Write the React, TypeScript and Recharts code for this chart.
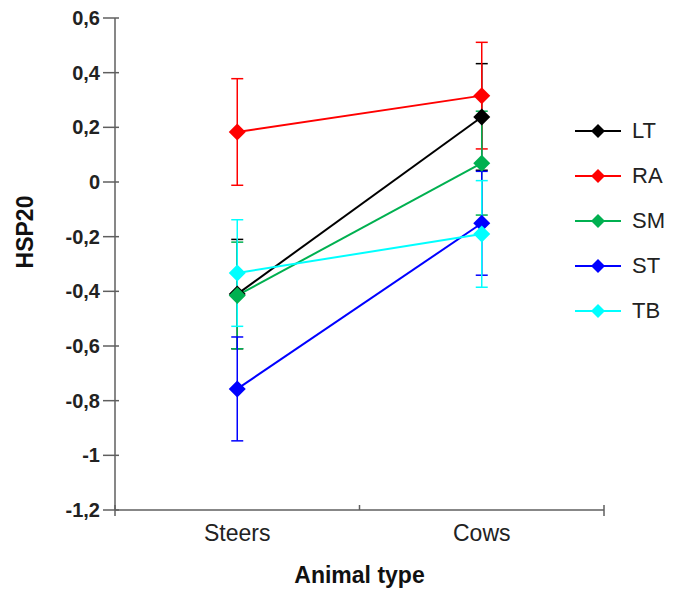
import React from 'react';
import { LineChart, Line, XAxis, YAxis, ErrorBar, Legend } from 'recharts';

const categories = ['Steers', 'Cows'];
const seriesNames = ['LT', 'RA', 'SM', 'ST', 'TB'];
const colors = ['#000000', '#ff0000', '#00b050', '#0000ff', '#00ffff'];
const LT = [-0.41, 0.238];
const RA = [0.183, 0.316];
const SM = [-0.415, 0.069];
const ST = [-0.757, -0.151];
const TB = [-0.333, -0.19];
const LT_err = [0.2, 0.195];
const RA_err = [0.195, 0.195];
const SM_err = [0.195, 0.19];
const ST_err = [0.19, 0.19];
const TB_err = [0.195, 0.195];
const yTicks = [-1.2, -1, -0.8, -0.6, -0.4, -0.2, 0, 0.2, 0.4, 0.6];
const xTicks = [0, 0.5, 1, 1.5, 2];

const values: Record<string, number[]> = { LT, RA, SM, ST, TB };
const errs: Record<string, number[]> = { LT: LT_err, RA: RA_err, SM: SM_err, ST: ST_err, TB: TB_err };

const data = categories.map((c, i) => {
  const row: any = { x: i + 0.5, name: c };
  seriesNames.forEach((s) => {
    row[s] = values[s][i];
    row[s + '_err'] = errs[s][i];
  });
  return row;
});

const FONT = '"Liberation Sans", Arial, sans-serif';
const AXIS = '#5f5f5f';

const fmt = (v: number) => String(Math.round(v * 10) / 10).replace('.', ',');

const YTick = (props: any) => {
  const { x, y, payload } = props;
  return (
    <g>
      <line x1={x + 3} x2={x + 19} y1={y} y2={y} stroke={AXIS} strokeWidth={1.5} />
      <text x={x} y={y} dy={7} textAnchor="end" fontFamily={FONT} fontWeight="bold" fontSize={20} fill="#222">
        {fmt(payload.value)}
      </text>
    </g>
  );
};

const XTick = (props: any) => {
  const { x, y, payload } = props;
  const v = payload.value;
  if (Math.abs(v - Math.round(v)) < 1e-6) {
    const mid = Math.round(v) === 1;
    return <line x1={x} x2={x} y1={y - 5} y2={mid ? y : y + 6} stroke={AXIS} strokeWidth={1.5} />;
  }
  const idx = Math.round(v - 0.5);
  return (
    <text x={x} y={y} dy={31} textAnchor="middle" fontFamily={FONT} fontSize={23} fill="#222">
      {categories[idx]}
    </text>
  );
};

const makeDot = (color: string, name: string) => (props: any) => {
  const { cx, cy, index } = props;
  if (cx == null || cy == null) return <g key={`${name}-${index}`} />;
  const r = 8.5;
  return (
    <path
      key={`${name}-${index}`}
      d={`M${cx} ${cy - r} L${cx + r} ${cy} L${cx} ${cy + r} L${cx - r} ${cy} Z`}
      fill={color}
    />
  );
};

const renderLegend = () => (
  <div style={{ fontFamily: FONT, fontSize: 22, color: '#222' }}>
    {seriesNames.map((n, i) => (
      <div key={n} style={{ display: 'flex', alignItems: 'center', height: 45 }}>
        <svg width={46} height={20} style={{ display: 'block' }}>
          <line x1={0} y1={10} x2={46} y2={10} stroke={colors[i]} strokeWidth={2} />
          <path d="M23 3 L30 10 L23 17 L16 10 Z" fill={colors[i]} />
        </svg>
        <span style={{ marginLeft: 11, lineHeight: '20px' }}>{n}</span>
      </div>
    ))}
  </div>
);

const YLabel = (props: any) => {
  const { viewBox } = props;
  const x = 25;
  const y = viewBox.y + viewBox.height / 2 - 32;
  return (
    <text x={x} y={y} transform={`rotate(-90, ${x}, ${y})`} textAnchor="middle" fontFamily={FONT} fontWeight="bold" fontSize={23} fill="#111">
      HSP20
    </text>
  );
};

const XLabel = (props: any) => {
  const { viewBox } = props;
  const x = viewBox.x + viewBox.width / 2;
  return (
    <text x={x} y={575} textAnchor="middle" fontFamily={FONT} fontWeight="bold" fontSize={23} fill="#111">
      Animal  type
    </text>
  );
};

export default function App() {
  return (
    <div style={{ position: 'relative', width: 668, height: 590 }}>
      <LineChart width={668} height={590} data={data} margin={{ top: 10, right: 72, bottom: 0, left: 0 }}>
        <XAxis
          dataKey="x"
          type="number"
          domain={[0, 2]}
          ticks={xTicks}
          interval={0}
          tick={<XTick />}
          tickLine={false}
          tickSize={0}
          tickMargin={0}
          height={88}
          axisLine={{ stroke: AXIS, strokeWidth: 1.5 }}
          label={<XLabel />}
        />
        <YAxis
          type="number"
          domain={[-1.2, 0.6]}
          ticks={yTicks}
          interval={0}
          width={107}
          tick={<YTick />}
          tickLine={false}
          tickSize={0}
          tickMargin={15}
          axisLine={{ stroke: AXIS, strokeWidth: 1.5 }}
          label={<YLabel />}
        />
        <Legend
          layout="vertical"
          align="center"
          verticalAlign="middle"
          content={renderLegend}
          wrapperStyle={{ left: 567, top: 100, width: 100, height: 225 }}
        />
        {seriesNames.map((s, i) => (
          <Line
            key={s}
            dataKey={s}
            stroke={colors[i]}
            strokeWidth={2}
            dot={makeDot(colors[i], s)}
            activeDot={false}
            isAnimationActive={false}
          >
            <ErrorBar dataKey={s + '_err'} width={6} strokeWidth={1.5} stroke={colors[i]} direction="y" isAnimationActive={false} />
          </Line>
        ))}
      </LineChart>
    </div>
  );
}
